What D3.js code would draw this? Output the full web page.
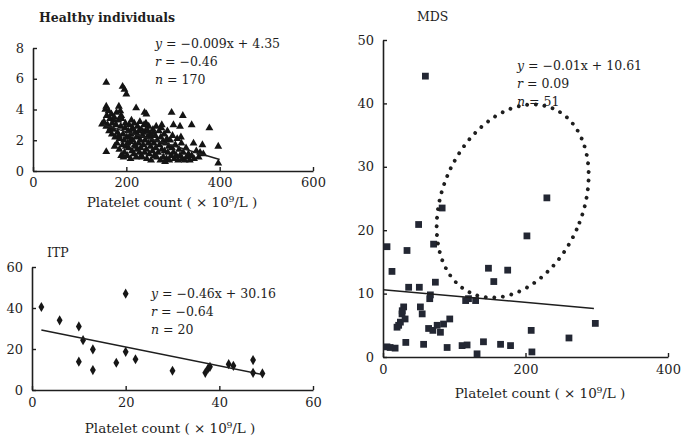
<!DOCTYPE html>
<html>
<head>
<meta charset="utf-8">
<script src="https://cdn.jsdelivr.net/npm/d3@7"></script>
<style>
  html, body { margin: 0; padding: 0; background: #fff; }
  svg { display: block; }
  text { font-family: "DejaVu Serif", "Liberation Serif", serif; fill: #1e1e1e; }
</style>
</head>
<body>
<svg id="chart" width="681" height="437"></svg>
<script>
// ---------- data ----------
// Healthy individuals: platelet count (x10^9/L) vs. measured value
const healthyX = [157,192,196,200,157,184,221,239,243,297,321,340,378,301,315,157,397,363,344,365,397,148,173,189,276,
  152,155,158,160,162,165,166,168,170,163,157,169,
  172,174,176,178,180,181,183,185,186,188,189,190,192,193,195,196,197,199,175,179,184,187,198,
  201,202,204,205,206,208,209,210,212,213,214,216,217,218,219,221,222,223,224,226,227,228,229,230,207,215,220,225,
  231,232,234,235,236,238,239,240,241,243,244,245,247,248,249,251,252,253,255,256,257,259,260,237,246,254,
  262,263,265,266,268,270,271,273,274,276,278,279,281,282,284,286,287,289,291,292,294,296,298,299,275,288,
  301,303,305,307,309,311,313,315,318,320,322,325,328,330,333,336,340,345,350,317,
  355,358,232,242,211,194,264,283,203,258];
const healthyY = [5.75,5.5,5.3,5.0,4.2,4.2,4.1,3.8,3.7,3.8,3.6,3.0,2.8,3.0,2.9,1.25,1.6,1.7,1.8,1.1,0.5,3.05,3.3,3.6,3.0,
  3.2,4.0,3.6,3.0,3.9,3.4,2.8,3.7,3.1,2.6,2.9,2.4,
  2.7,3.5,2.2,3.0,1.8,2.5,3.3,1.4,2.1,2.9,1.0,3.4,1.7,2.4,2.0,1.2,2.8,1.6,1.6,3.8,2.3,3.9,3.1,
  2.2,1.0,2.6,1.5,3.0,1.9,0.8,2.4,1.3,2.8,2.0,1.1,3.1,1.7,2.5,0.9,2.2,1.4,2.9,1.8,2.6,1.2,3.2,2.0,2.2,2.7,1.6,2.3,
  1.5,2.7,0.9,2.3,1.7,3.0,1.2,2.0,2.6,1.4,0.8,2.2,1.8,2.9,1.1,2.4,1.6,0.7,2.0,1.3,2.7,1.8,1.0,2.5,2.6,2.3,
  2.3,1.5,0.9,2.0,1.2,2.6,1.7,0.7,2.2,1.4,1.9,0.9,2.4,1.3,1.8,0.8,2.1,1.2,1.6,0.7,2.0,1.0,1.5,2.3,2.8,2.6,
  1.2,0.8,1.7,1.0,2.1,0.7,1.4,1.0,1.8,0.8,1.2,0.7,1.5,0.9,1.1,0.7,1.0,0.8,1.3,2.2,
  0.9,1.2,1.0,3.1,3.3,0.9,2.9,0.6,1.8,2.5];
const healthyXTicks = [0, 200, 400, 600];
const healthyYTicks = [0, 2, 4, 6, 8];
const healthyFit = { slope: -0.009, intercept: 4.35, from: 150, to: 400 };
const healthyStats = ["−0.009x + 4.35", "−0.46", "170"];

// ITP
const itpX = [2, 5.9, 10, 10.9, 13, 10, 13, 18, 20, 20, 22.1, 30, 37, 37.6, 38, 42, 43, 47.2, 47.2, 49.2];
const itpY = [40.5, 34, 31, 24.3, 19.8, 13.8, 9.7, 13.3, 18.6, 47, 15, 9.4, 8.4, 10.5, 11.3, 12.6, 11.8, 14.6, 8.4, 8.1];
const itpXTicks = [0, 20, 40, 60];
const itpYTicks = [0, 20, 40, 60];
const itpFit = { slope: -0.46, intercept: 30.16, from: 2, to: 49 };
const itpStats = ["−0.46x + 30.16", "−0.64", "20"];

// MDS
const mdsX = [5.6, 12.6, 33.7, 50, 36, 51, 71, 73.5, 83, 66.5, 65.6, 29, 26.7, 24.4, 19.7, 31, 52.5, 55, 64, 76, 80.6, 85, 93.7,
  5.6, 17, 32, 57, 90, 111, 118, 132, 141, 165, 179, 209, 208, 202, 148, 155.5, 175, 120, 130, 116, 261, 298, 59.5, 230,
  27, 22, 70, 10];
const mdsY = [17.4, 13.5, 16.8, 20.9, 11, 11, 17.8, 11.8, 23.5, 9.8, 9.2, 7.9, 6.8, 5.5, 4.7, 6, 7.9, 6.8, 4.5, 5, 3.9, 5.2, 6,
  1.6, 1.4, 2.3, 2, 1.5, 1.8, 1.9, 0.5, 2.4, 2, 1.8, 0.8, 4.2, 19.1, 14, 11.9, 13.7, 9.2, 8.9, 8.9, 3, 5.3, 44.3, 25.1,
  7.3, 5.0, 4.2, 1.5];
const mdsXTicks = [0, 200, 400];
const mdsYTicks = [0, 10, 20, 30, 40, 50];
const mdsFit = { slope: -0.01, intercept: 10.61, from: 0, to: 296 };
const mdsStats = ["−0.01x + 10.61", "0.09", "51"];
// highlighted group in the MDS panel (centre in data units)
const mdsGroupCentre = { x: 182, y: 24.6 };

const xTitle = "Platelet count ( × 10⁹/L )";

// ---------- drawing ----------
const svg = d3.select("#chart");
const ink = "#1e1e1e";

function panel(cfg) {
  const g = svg.append("g");
  const x = d3.scaleLinear().domain(cfg.xDomain).range(cfg.xRange);
  const y = d3.scaleLinear().domain(cfg.yDomain).range(cfg.yRange);

  const xAxis = g.append("g")
    .attr("transform", `translate(0,${cfg.yRange[0]})`)
    .call(d3.axisBottom(x).tickValues(cfg.xTicks).tickSizeInner(-4).tickSizeOuter(0).tickPadding(cfg.xPad));
  const yAxis = g.append("g")
    .attr("transform", `translate(${cfg.xRange[0]},0)`)
    .call(d3.axisLeft(y).tickValues(cfg.yTicks).tickSizeInner(-4).tickSizeOuter(0).tickPadding(cfg.yPad));
  [xAxis, yAxis].forEach(a => {
    a.select(".domain").attr("stroke", ink).attr("stroke-width", 1.6);
    a.selectAll(".tick line").attr("stroke", ink).attr("stroke-width", 1.4);
    a.selectAll(".tick text")
      .attr("font-family", "DejaVu Serif, serif")
      .attr("font-size", 13)
      .attr("fill", ink);
  });

  // points
  const sym = d3.symbol().type(cfg.symbol).size(cfg.symbolSize);
  g.append("g").selectAll("path")
    .data(cfg.xs.map((v, i) => [v, cfg.ys[i]]))
    .join("path")
    .attr("d", sym)
    .attr("transform", d => `translate(${x(d[0])},${y(d[1])})`)
    .attr("fill", cfg.pointColor);

  // regression line
  const f = cfg.fit;
  g.append("line")
    .attr("x1", x(f.from)).attr("y1", y(f.slope * f.from + f.intercept))
    .attr("x2", x(f.to)).attr("y2", y(f.slope * f.to + f.intercept))
    .attr("stroke", ink).attr("stroke-width", 1.5);

  // title
  g.append("text")
    .attr("x", cfg.title.x).attr("y", cfg.title.y)
    .attr("font-size", cfg.title.size)
    .attr("font-weight", cfg.title.bold ? "bold" : "normal")
    .text(cfg.title.text);

  // statistics
  const labels = ["y", "r", "n"];
  cfg.stats.forEach((s, i) => {
    const t = g.append("text")
      .attr("x", cfg.statsPos.x)
      .attr("y", cfg.statsPos.y + i * cfg.statsPos.dy)
      .attr("font-size", 12.5);
    t.append("tspan").attr("font-style", "italic").text(labels[i]);
    t.append("tspan").text(" = " + s);
  });

  // x-axis title
  g.append("text")
    .attr("x", cfg.xTitle.x).attr("y", cfg.xTitle.y)
    .attr("text-anchor", "middle")
    .attr("font-size", 13.5)
    .text(xTitle);

  return { g, x, y };
}

panel({
  xDomain: [0, 600], xRange: [33, 313],
  yDomain: [0, 8], yRange: [171, 48],
  xTicks: healthyXTicks, yTicks: healthyYTicks, xPad: 7, yPad: 9,
  xs: healthyX, ys: healthyY,
  symbol: d3.symbolTriangle, symbolSize: 27, pointColor: "#141414",
  fit: healthyFit,
  title: { text: "Healthy individuals", x: 39, y: 22, size: 12.5, bold: true },
  stats: healthyStats, statsPos: { x: 155, y: 48, dy: 18 },
  xTitle: { x: 172, y: 207 }
});

panel({
  xDomain: [0, 60], xRange: [32, 313],
  yDomain: [0, 60], yRange: [390, 267],
  xTicks: itpXTicks, yTicks: itpYTicks, xPad: 8, yPad: 9,
  xs: itpX, ys: itpY,
  symbol: d3.symbolDiamond, symbolSize: 30, pointColor: "#161616",
  fit: itpFit,
  title: { text: "ITP", x: 47, y: 257, size: 12.5, bold: false },
  stats: itpStats, statsPos: { x: 151, y: 298, dy: 18 },
  xTitle: { x: 170, y: 433 }
});

const mds = panel({
  xDomain: [0, 400], xRange: [383, 668],
  yDomain: [0, 50], yRange: [357, 40],
  xTicks: mdsXTicks, yTicks: mdsYTicks, xPad: 8, yPad: 9,
  xs: mdsX, ys: mdsY,
  symbol: d3.symbolSquare, symbolSize: 46, pointColor: "#232733",
  fit: mdsFit,
  title: { text: "MDS", x: 417, y: 21, size: 12.5, bold: false },
  stats: mdsStats, statsPos: { x: 517, y: 70, dy: 18 },
  xTitle: { x: 540, y: 398 }
});

// dotted ellipse around the high group
const cx = mds.x(mdsGroupCentre.x), cy = mds.y(mdsGroupCentre.y);
mds.g.append("ellipse")
  .attr("cx", 0).attr("cy", 0).attr("rx", 70).attr("ry", 101)
  .attr("transform", `translate(${cx},${cy}) rotate(24)`)
  .attr("fill", "none")
  .attr("stroke", "#1e1e1e")
  .attr("stroke-width", 3.8)
  .attr("stroke-linecap", "round")
  .attr("stroke-dasharray", "0 8.6");
</script>
</body>
</html>
